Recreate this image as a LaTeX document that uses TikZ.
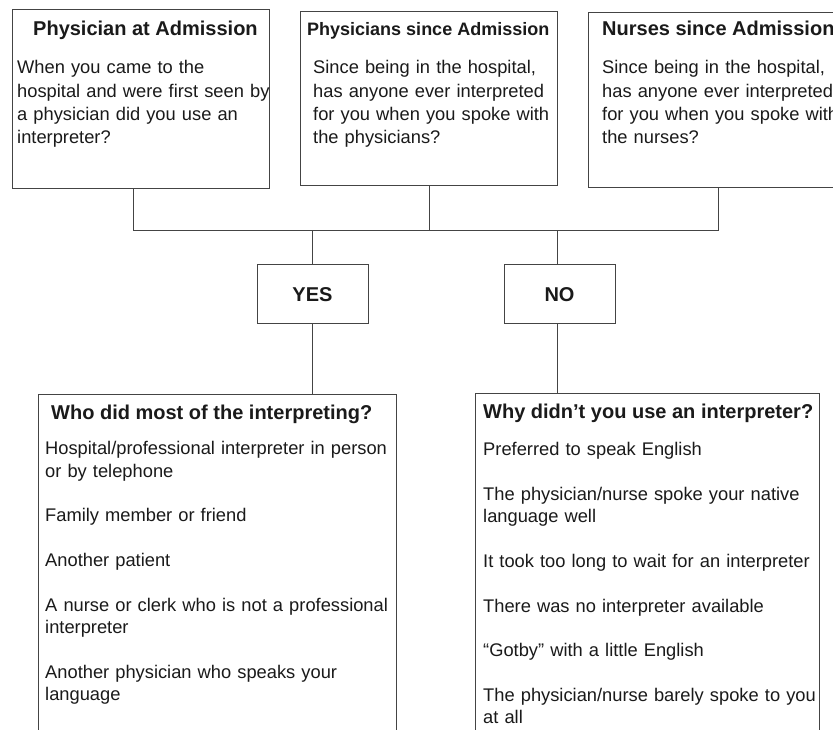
\documentclass[tikz,border=0pt]{standalone}
\usepackage{fontspec}
\setmainfont{Liberation Sans}
\definecolor{ink}{HTML}{1A1A1A}
\definecolor{wire}{HTML}{444444}
\hyphenpenalty=10000
\exhyphenpenalty=10000
\begin{document}
\begin{tikzpicture}[x=1pt,y=1pt,
  box/.style={draw=wire,line width=1pt,inner sep=0pt,anchor=north west},
  ttl/.style={inner sep=0pt,anchor=base west,text=ink,font=\bfseries\fontsize{20}{24}\selectfont},
  ttlsmall/.style={ttl,font=\bfseries\fontsize{18}{22}\selectfont},
  body/.style={inner sep=0pt,anchor=base west,text=ink,align=left,text width=420pt,font=\fontsize{18.3}{23.3}\selectfont},
  items/.style={body,font=\fontsize{18.3}{22.2}\selectfont},
  yn/.style={draw=wire,line width=1pt,minimum width=111pt,minimum height=59pt,inner sep=0pt,text=ink,font=\bfseries\fontsize{20}{24}\selectfont},
  wirel/.style={draw=wire,line width=1pt}]
\useasboundingbox (0,0) rectangle (833,729);
\fill[white] (0,0) rectangle (833,729);
% top boxes
\node[box,minimum width=257pt,minimum height=179pt] (b1) at (12,720) {};
\node[box,minimum width=257pt,minimum height=174pt] (b2) at (300,718) {};
\node[box,minimum width=272pt,minimum height=175pt] (b3) at (588,717) {};
\node[ttl] (t1) at (33,693) {Physician at Admission};
\node[ttlsmall] (t2) at (307,693) {Physicians since Admission};
\node[ttl] (t3) at (602,693) {Nurses since Admission};
\node[body] (q1) at (17,655) {When you came to the\\hospital and were first seen by\\a physician did you use an\\interpreter?};
\node[body] (q2) at (313,655) {Since being in the hospital,\\has anyone ever interpreted\\for you when you spoke with\\the physicians?};
\node[body] (q3) at (602,655) {Since being in the hospital,\\has anyone ever interpreted\\for you when you spoke with\\the nurses?};
% junction
\coordinate (jl) at (133,498);
\coordinate (jr) at (718,498);
\draw[wirel] (b1.south -| jl) -- (jl) -- (jr) -- (b3.south -| jr);
\draw[wirel] (b2.south) -- (b2.south |- jl);
% yes / no
\node[yn] (yes) at (312.5,434.5) {YES};
\node[yn] (no) at (559.5,434.5) {NO};
\draw[wirel] (yes.north |- jl) -- (yes.north);
\draw[wirel] (557,498) coordinate (nt) -- (nt |- no.north);
% bottom boxes
\node[box,minimum width=358pt,minimum height=360pt] (bl) at (38,335) {};
\node[box,minimum width=344pt,minimum height=360pt] (br) at (475,336) {};
\draw[wirel] (yes.south) -- (yes.south |- bl.north);
\draw[wirel] (nt |- no.south) -- (nt |- br.north);
\node[ttl] (t4) at (51,309) {Who did most of the interpreting?};
\node[ttl] (t5) at (483,310) {Why didn’t you use an interpreter?};
\node[items] (a1) at (45,274) {Hospital/professional interpreter in person\\or by telephone\\[22.5pt]Family member or friend\\[22.5pt]Another patient\\[22.5pt]A nurse or clerk who is not a professional\\interpreter\\[22.5pt]Another physician who speaks your\\language};
\node[items] (a2) at (483,273) {Preferred to speak English\\[22.5pt]The physician/nurse spoke your native\\language well\\[22.5pt]It took too long to wait for an interpreter\\[22.5pt]There was no interpreter available\\[22.5pt]“Gotby” with a little English\\[22.5pt]The physician/nurse barely spoke to you\\at all};
\end{tikzpicture}
\end{document}
